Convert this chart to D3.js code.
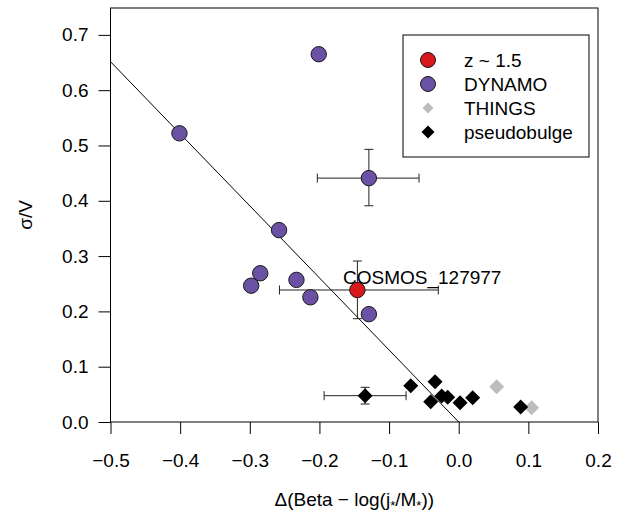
<!DOCTYPE html>
<html><head><meta charset="utf-8">
<script src="https://cdn.jsdelivr.net/npm/d3@7"></script>
<style>body{margin:0;background:#fff}svg{display:block}text{font-family:"Liberation Sans",Arial,Helvetica,sans-serif;}</style>
</head><body>
<svg id="c" width="626" height="515"></svg>
<script>
// ---- data ----
const xTicks = [-0.5, -0.4, -0.3, -0.2, -0.1, 0.0, 0.1, 0.2];
const yTicks = [0.0, 0.1, 0.2, 0.3, 0.4, 0.5, 0.6, 0.7];

const dynamoX = [-0.401, -0.201, -0.129, -0.258, -0.285, -0.298, -0.233, -0.213, -0.129];
const dynamoY = [0.522, 0.665, 0.441, 0.347, 0.269, 0.2465, 0.257, 0.2255, 0.195];
const dynamoErr = [{i: 2, xlo: -0.203, xhi: -0.057, ylo: 0.391, yhi: 0.493}];

const z15X = [-0.1455];
const z15Y = [0.2387];
const z15Err = [{i: 0, xlo: -0.2574, xhi: -0.0293, ylo: 0.1868, yhi: 0.2911}];
const z15Label = "COSMOS_127977";

const thingsX = [0.0545, 0.1047];
const thingsY = [0.0638, 0.0259];

const pseudoX = [-0.1344, -0.0689, -0.034, -0.0402, -0.0244, -0.0158, 0.0019, 0.0201, 0.089];
const pseudoY = [0.0476, 0.0657, 0.0729, 0.0367, 0.047, 0.0447, 0.0349, 0.044, 0.0271];
const pseudoErr = [{i: 0, xlo: -0.1933, xhi: -0.0756, ylo: 0.0325, yhi: 0.0627}];

const fitSlope = -1.303, fitIntercept = 0.0;

const legendLabels = ["z ~ 1.5", "DYNAMO", "THINGS", "pseudobulge"];
const legendKinds = ["circle", "circle", "diamond", "diamond"];
const legendColors = ["#D7191C", "#6A51A3", "#BDBDBD", "#000000"];

// ---- drawing ----
const svg = d3.select("#c");
const x = d3.scaleLinear().domain([-0.5, 0.2]).range([110.5, 598]);
const y = d3.scaleLinear().domain([0, 0.7486]).range([422, 8]);
const FS = 19;

const defs = svg.append("defs");
defs.append("clipPath").attr("id", "clip").append("rect")
  .attr("x", 110.5).attr("y", 8).attr("width", 598 - 110.5).attr("height", 422 - 8);

// axes
const gx = svg.append("g").attr("transform", "translate(0,422)")
  .call(d3.axisBottom(x).tickValues(xTicks).tickSize(12).tickPadding(20)
    .tickFormat(d => d3.format(".1f")(d).replace("-", "\u2212")));
const gy = svg.append("g").attr("transform", "translate(110.5,0)")
  .call(d3.axisLeft(y).tickValues(yTicks).tickSize(12).tickPadding(10)
    .tickFormat(d3.format(".1f")));
[gx, gy].forEach(g => {
  g.select(".domain").remove();
  g.selectAll("line").attr("stroke", "#000");
  g.selectAll("text").attr("font-size", FS).attr("fill", "#000")
    .style("font-family", '"Liberation Sans",Arial,sans-serif');
});

// box
svg.append("rect").attr("x", 110.5).attr("y", 8).attr("width", 598 - 110.5).attr("height", 414)
  .attr("fill", "none").attr("stroke", "#000").attr("stroke-width", 1);

// fit line
const plot = svg.append("g").attr("clip-path", "url(#clip)");
plot.append("line")
  .attr("x1", x(-0.5)).attr("y1", y(fitIntercept + fitSlope * -0.5))
  .attr("x2", x(0.2)).attr("y2", y(fitIntercept + fitSlope * 0.2))
  .attr("stroke", "#000").attr("stroke-width", 1);

// error bars
function errBars(xs, ys, errs) {
  errs.forEach(e => {
    const cx = x(xs[e.i]), cy = y(ys[e.i]);
    const g = plot.append("g").attr("stroke", "#222").attr("stroke-width", 1).attr("fill", "none");
    const c = 4.5;
    g.append("line").attr("x1", x(e.xlo)).attr("x2", x(e.xhi)).attr("y1", cy).attr("y2", cy);
    g.append("line").attr("x1", x(e.xlo)).attr("x2", x(e.xlo)).attr("y1", cy - c).attr("y2", cy + c);
    g.append("line").attr("x1", x(e.xhi)).attr("x2", x(e.xhi)).attr("y1", cy - c).attr("y2", cy + c);
    g.append("line").attr("x1", cx).attr("x2", cx).attr("y1", y(e.ylo)).attr("y2", y(e.yhi));
    g.append("line").attr("x1", cx - c).attr("x2", cx + c).attr("y1", y(e.ylo)).attr("y2", y(e.ylo));
    g.append("line").attr("x1", cx - c).attr("x2", cx + c).attr("y1", y(e.yhi)).attr("y2", y(e.yhi));
  });
}
errBars(dynamoX, dynamoY, dynamoErr);
errBars(z15X, z15Y, z15Err);
errBars(pseudoX, pseudoY, pseudoErr);

const diamond = h => `M0,${-h}L${h},0L0,${h}L${-h},0Z`;

function circles(xs, ys, fill) {
  plot.append("g").selectAll("circle").data(xs.map((d, i) => [d, ys[i]])).join("circle")
    .attr("cx", d => x(d[0])).attr("cy", d => y(d[1])).attr("r", 7.7)
    .attr("fill", fill).attr("stroke", "#1a1a1a").attr("stroke-width", 1);
}
function diamonds(xs, ys, fill) {
  plot.append("g").selectAll("path").data(xs.map((d, i) => [d, ys[i]])).join("path")
    .attr("transform", d => `translate(${x(d[0])},${y(d[1])})`)
    .attr("d", diamond(7.5)).attr("fill", fill);
}
diamonds(thingsX, thingsY, "#BDBDBD");
diamonds(pseudoX, pseudoY, "#000");
circles(dynamoX, dynamoY, "#6A51A3");
circles(z15X, z15Y, "#D7191C");

// label
svg.append("text").attr("x", 343).attr("y", 284).attr("font-size", FS).text(z15Label);

// legend
const lg = svg.append("g");
lg.append("rect").attr("x", 403).attr("y", 35).attr("width", 589 - 403).attr("height", 122)
  .attr("fill", "#fff").attr("stroke", "#000").attr("stroke-width", 1);
legendLabels.forEach((lab, i) => {
  const cy = 60 + i * 24;
  if (legendKinds[i] === "circle") {
    lg.append("circle").attr("cx", 428).attr("cy", cy).attr("r", 7.5)
      .attr("fill", legendColors[i]).attr("stroke", "#1a1a1a");
  } else {
    lg.append("path").attr("transform", `translate(428,${cy})`)
      .attr("d", diamond(i === 2 ? 5.5 : 6.5)).attr("fill", legendColors[i]);
  }
  lg.append("text").attr("x", 464).attr("y", cy + 7).attr("font-size", FS).text(lab);
});

// axis titles
const xt = svg.append("text").attr("x", x(-0.15)).attr("y", 506).attr("text-anchor", "middle").attr("font-size", FS);
xt.append("tspan").text("\u0394(Beta \u2212 log(j");
xt.append("tspan").attr("font-size", 13).attr("dy", 4).text("*");
xt.append("tspan").attr("dy", -4).text("/M");
xt.append("tspan").attr("font-size", 13).attr("dy", 4).text("*");
xt.append("tspan").attr("dy", -4).text("))");

svg.append("text").attr("transform", "translate(32,215) rotate(-90)")
  .attr("text-anchor", "middle").attr("font-size", FS).text("\u03C3/V");
</script>
</body></html>
